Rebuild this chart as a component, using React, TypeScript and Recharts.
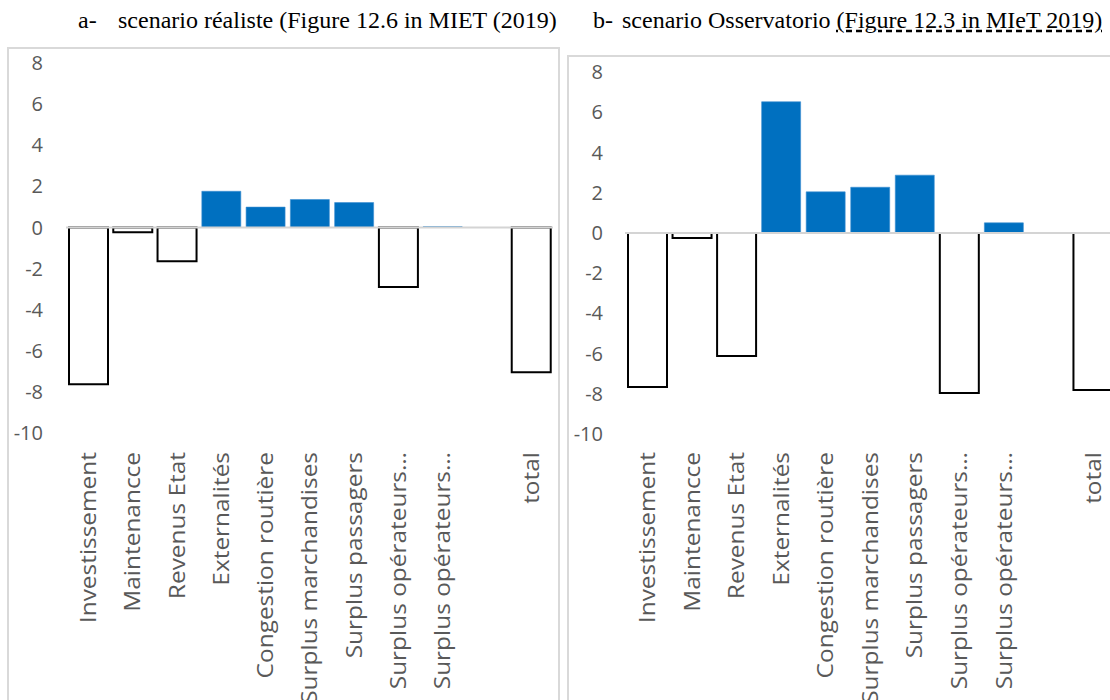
import React from 'react';
import { BarChart, Bar, XAxis, YAxis, Cell, ReferenceLine } from 'recharts';

const categories = [
  'Investissement',
  'Maintenancce',
  'Revenus Etat',
  'Externalités',
  'Congestion routière',
  'Surplus marchandises',
  'Surplus passagers',
  'Surplus opérateurs…',
  'Surplus opérateurs…',
  '',
  'total',
];
const realisteValues = [-7.63, -0.23, -1.64, 1.76, 0.99, 1.36, 1.21, -2.9, 0.04, null, -7.04];
const osservatorioValues = [-7.66, -0.25, -6.12, 6.52, 2.04, 2.27, 2.87, -7.96, 0.5, null, -7.81];
const yTicks = [-10, -8, -6, -4, -2, 0, 2, 4, 6, 8];

const titleALabel = 'a-';
const titleAText = 'scenario réaliste (Figure 12.6 in MIET (2019)';
const titleBLabel = 'b-';
const titleBText = 'scenario Osservatorio ';
const titleBLink = '(Figure 12.3 in MIeT 2019)';

const BLUE = '#0070C0';
const GRAY_TEXT = '#595959';
const BOX = '#d9d9d9';
const SANS = '"Open Sans", sans-serif';
const SERIF = '"Liberation Serif", "Times New Roman", serif';

const buildData = (values: (number | null)[]) =>
  categories.map((name, i) => ({ key: i, name, value: values[i] }));

const CatTick = (props: any) => {
  const { x, y, payload } = props;
  const label = categories[payload.value] ?? '';
  return (
    <g transform={`translate(${x},${y}) rotate(-90) scale(1.11,1)`}>
      <text x={0} y={0} dy="0.36em" textAnchor="end" fill={GRAY_TEXT} fontSize={22} fontFamily={SANS}>
        {label}
      </text>
    </g>
  );
};

type PanelProps = {
  values: (number | null)[];
  width: number;
  height: number;
  marginTop: number;
  marginRight: number;
  yAxisWidth: number;
  yTickMargin: number;
  xAxisHeight: number;
  xTickMargin: number;
};

const Panel = ({ values, width, height, marginTop, marginRight, yAxisWidth, yTickMargin, xAxisHeight, xTickMargin }: PanelProps) => {
  const data = buildData(values);
  return (
    <BarChart width={width} height={height} data={data} margin={{ top: marginTop, right: marginRight, bottom: 0, left: 0 }}>
      <XAxis
        dataKey="key"
        type="category"
        height={xAxisHeight}
        interval={0}
        tickLine={false}
        axisLine={false}
        tickMargin={xTickMargin}
        tick={<CatTick />}
      />
      <YAxis
        domain={[-10, 8]}
        ticks={yTicks}
        width={yAxisWidth}
        tickLine={false}
        axisLine={false}
        tickMargin={yTickMargin}
        tick={{ fill: GRAY_TEXT, fontSize: 20, fontFamily: SANS }}
        allowDataOverflow
      />
      <Bar dataKey="value" barSize={39} isAnimationActive={false}>
        {data.map((d, i) => {
          const neg = (d.value ?? 0) < 0;
          return (
            <Cell
              key={i}
              fill={neg ? '#ffffff' : BLUE}
              stroke={neg ? '#000000' : '#3d8fd1'}
              strokeWidth={neg ? 2 : 0.6}
            />
          );
        })}
      </Bar>
      <ReferenceLine y={0} stroke="#d4d4d4" strokeWidth={2} ifOverflow="extendDomain" />
    </BarChart>
  );
};

export default function App() {
  return (
    <div style={{ position: 'fixed', left: 0, top: 0, width: 1110, height: 700, overflow: 'hidden', background: '#fff' }}>
      {/* titles */}
      <div style={{ position: 'absolute', left: 78, top: 7, whiteSpace: 'nowrap', fontFamily: SERIF, fontSize: 24, color: '#000' }}>
        <span style={{ display: 'inline-block', width: 40 }}>{titleALabel}</span>
        <span>{titleAText}</span>
      </div>
      <div style={{ position: 'absolute', left: 593, top: 7, whiteSpace: 'nowrap', fontFamily: SERIF, fontSize: 24, color: '#000' }}>
        <span style={{ display: 'inline-block', width: 29 }}>{titleBLabel}</span>
        <span>{titleBText}</span>
        <span style={{ textDecorationLine: 'underline', textDecorationStyle: 'dashed', textDecorationColor: '#000' }}>{titleBLink}</span>
      </div>

      {/* boxes */}
      <div style={{ position: 'absolute', left: 7, top: 47, width: 553, height: 700, border: `2px solid ${BOX}`, boxSizing: 'border-box' }} />
      <div style={{ position: 'absolute', left: 567, top: 55, width: 600, height: 700, border: `2px solid ${BOX}`, boxSizing: 'border-box' }} />

      {/* left chart */}
      <div style={{ position: 'absolute', left: 8, top: 48 }}>
        <Panel
          values={realisteValues}
          width={548}
          height={652}
          marginTop={15}
          marginRight={3}
          yAxisWidth={58}
          yTickMargin={17}
          xAxisHeight={267}
          xTickMargin={13}
        />
      </div>

      {/* right chart */}
      <div style={{ position: 'absolute', left: 568, top: 56 }}>
        <Panel
          values={osservatorioValues}
          width={560}
          height={644}
          marginTop={16}
          marginRight={13}
          yAxisWidth={57}
          yTickMargin={16}
          xAxisHeight={266}
          xTickMargin={12}
        />
      </div>
    </div>
  );
}
